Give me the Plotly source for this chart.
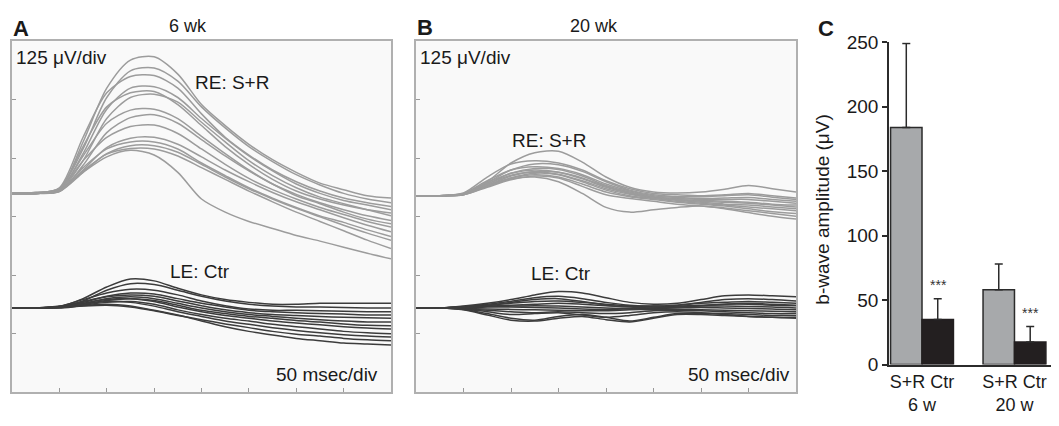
import plotly.graph_objects as go

W, H = 1059, 426

# ---------------- data ----------------
t_ms = [0, 25, 50, 75, 100, 125, 150, 175, 200, 225, 250, 275, 300, 325, 350, 375, 400]

# Panel A (6 wk) right eye S+R traces, µV relative to baseline
a_re = [
    [0, 0, 8, 110, 225, 285, 292, 255, 190, 145, 105, 72, 45, 22, 8, -5, -10],
    [0, 2, 10, 95, 205, 262, 268, 240, 185, 140, 100, 68, 40, 18, 0, -12, -20],
    [0, 0, 12, 120, 215, 250, 252, 225, 170, 120, 82, 50, 25, 5, -10, -20, -28],
    [0, 0, 6, 85, 180, 225, 228, 205, 160, 118, 80, 48, 20, 0, -15, -25, -35],
    [0, 2, 10, 100, 185, 215, 218, 190, 145, 100, 62, 30, 5, -12, -25, -35, -42],
    [0, 0, 5, 70, 160, 205, 212, 195, 152, 110, 70, 38, 12, -8, -22, -35, -48],
    [0, 0, 8, 80, 150, 178, 180, 160, 122, 85, 50, 20, -2, -20, -35, -48, -58],
    [0, 0, 4, 60, 130, 162, 168, 150, 115, 80, 48, 20, -5, -22, -40, -55, -65],
    [0, 2, 8, 70, 120, 143, 146, 128, 95, 62, 32, 8, -12, -30, -45, -60, -72],
    [0, 0, 5, 50, 98, 118, 120, 105, 78, 50, 25, 2, -18, -35, -52, -68, -82],
    [0, 0, 6, 55, 95, 110, 110, 95, 65, 38, 12, -10, -30, -48, -62, -78, -92],
    [0, 0, 4, 45, 85, 102, 102, 88, 62, 35, 10, -12, -32, -50, -68, -85, -100],
    [0, 0, 5, 48, 84, 96, 95, 80, 55, 30, 5, -18, -40, -60, -80, -100, -118],
    [0, 0, 6, 45, 78, 92, 82, 45, -12, -40, -60, -75, -90, -102, -115, -128, -140],
]
# Panel A left eye control traces
a_le = [
    [0, 0, 3, 20, 45, 62, 58, 42, 28, 18, 12, 8, 8, 10, 10, 10, 10],
    [0, 0, 2, 15, 38, 52, 50, 38, 25, 15, 8, 4, 2, 2, 1, 0, 0],
    [0, 0, 4, 18, 32, 40, 38, 28, 15, 5, -2, -5, -5, -6, -7, -8, -8],
    [0, 0, 2, 12, 25, 32, 30, 20, 10, 2, -5, -8, -10, -12, -13, -15, -15],
    [0, 0, 3, 14, 24, 28, 25, 15, 5, -4, -10, -14, -16, -18, -20, -21, -22],
    [0, 0, 2, 10, 20, 24, 20, 10, 0, -8, -14, -18, -22, -25, -28, -30, -30],
    [0, 0, 1, 8, 16, 20, 16, 6, -5, -12, -18, -22, -27, -30, -34, -37, -38],
    [0, 0, 2, 10, 18, 20, 14, 2, -8, -16, -22, -28, -32, -36, -40, -43, -45],
    [0, 0, 1, 6, 12, 14, 8, -4, -14, -22, -28, -35, -40, -45, -50, -53, -55],
    [0, 0, 2, 8, 14, 12, 4, -8, -18, -28, -35, -42, -48, -53, -57, -60, -62],
    [0, 0, 0, 4, 6, 2, -6, -16, -25, -34, -42, -50, -56, -60, -65, -68, -70],
    [0, 0, 1, 5, 8, 4, -5, -15, -28, -40, -50, -58, -65, -70, -75, -77, -79],
]
# Panel B (20 wk) right eye S+R traces
b_re = [
    [0, 0, 4, 30, 70, 92, 95, 72, 40, 18, 8, 6, 8, 14, 22, 15, 8],
    [0, 0, 6, 40, 68, 75, 70, 55, 32, 15, 5, 2, 0, 2, 5, 0, -5],
    [0, 0, 3, 28, 55, 68, 66, 52, 30, 12, 2, -2, -2, 0, 2, -3, -8],
    [0, 0, 5, 32, 55, 62, 58, 45, 25, 10, 0, -4, -6, -5, -4, -8, -12],
    [0, 0, 3, 25, 48, 58, 56, 42, 22, 8, -2, -6, -8, -8, -8, -12, -16],
    [0, 0, 4, 28, 48, 55, 50, 36, 18, 5, -4, -8, -10, -12, -14, -18, -20],
    [0, 0, 2, 22, 42, 52, 50, 38, 20, 6, -3, -8, -12, -14, -16, -20, -24],
    [0, 0, 3, 25, 44, 50, 46, 32, 15, 3, -5, -10, -14, -18, -20, -24, -28],
    [0, 0, 2, 20, 38, 48, 45, 30, 12, 0, -6, -12, -16, -20, -24, -28, -32],
    [0, 0, 4, 22, 38, 45, 40, 25, 8, -2, -8, -14, -18, -22, -28, -34, -38],
    [0, 0, 2, 18, 34, 42, 38, 20, 2, -6, -12, -18, -22, -26, -32, -38, -44],
    [0, 0, 3, 20, 36, 40, 30, 5, -25, -35, -30, -25, -22, -28, -36, -44, -50],
]
# Panel B left eye control traces
b_le = [
    [0, 0, 4, 10, 18, 28, 35, 32, 22, 12, 8, 10, 18, 26, 28, 26, 24],
    [0, 0, 2, 8, 14, 22, 25, 20, 12, 6, 4, 6, 12, 18, 20, 18, 15],
    [0, 0, 3, 6, 10, 14, 15, 12, 8, 5, 4, 6, 10, 12, 14, 12, 10],
    [0, 0, 2, 4, 6, 8, 10, 8, 5, 3, 2, 4, 6, 8, 8, 6, 5],
    [0, 0, 1, 3, 4, 5, 4, 2, 0, -1, 0, 2, 4, 4, 3, 2, 0],
    [0, 0, 0, 2, 2, 1, 0, -2, -3, -2, -1, 0, 1, 0, -1, -2, -4],
    [0, 0, -1, -2, -3, -4, -5, -6, -6, -4, -3, -3, -4, -5, -6, -7, -8],
    [0, 0, -2, -5, -8, -10, -8, -10, -12, -10, -6, -5, -6, -8, -10, -12, -12],
    [0, 0, -2, -8, -14, -12, -10, -15, -20, -16, -10, -8, -10, -12, -14, -16, -16],
    [0, 0, -3, -12, -22, -26, -18, -14, -20, -28, -20, -12, -12, -14, -18, -20, -20],
    [0, 0, -4, -15, -26, -28, -22, -18, -25, -30, -22, -14, -14, -16, -18, -20, -22],
    [0, 0, 0, 5, 12, 18, 20, 14, 6, 2, 0, 2, 5, 8, 10, 8, 6],
]
# display baselines (µV on the 6-division screen, 125 µV/div)
a_re_base, a_le_base = 425, 180
b_re_base, b_le_base = 420, 180

# Panel C bar chart
ages = ["6 w", "20 w"]
age_ticks = ["S+R Ctr<br>6 w", "S+R Ctr<br>20 w"]
sr_mean = [184, 58]
sr_err = [65, 20]
ctr_mean = [35, 17.5]
ctr_err = [16, 12]
sig = ["***", "***"]

# ---------------- figure ----------------
GREY_TR = "#9c9c9c"
DARK_TR = "#3c3c3c"
FONT = "Liberation Sans, Arial, sans-serif"

fig = go.Figure()

def add_traces(group, base, color, xa, ya):
    for tr in group:
        fig.add_trace(go.Scatter(
            x=t_ms, y=[base + v for v in tr], mode="lines",
            line=dict(color=color, width=1.5, shape="spline", smoothing=0.8),
            xaxis=xa, yaxis=ya, showlegend=False, hoverinfo="skip"))

add_traces(a_re, a_re_base, GREY_TR, "x", "y")
add_traces(a_le, a_le_base, DARK_TR, "x", "y")
add_traces(b_re, b_re_base, GREY_TR, "x2", "y2")
add_traces(b_le, b_le_base, DARK_TR, "x2", "y2")

fig.add_trace(go.Bar(
    x=ages, y=sr_mean, name="S+R", marker=dict(color="#a7a9ab", line=dict(color="#2b2b2b", width=1.5)),
    error_y=dict(type="data", array=sr_err, arrayminus=[0, 0], symmetric=False,
                 color="#2b2b2b", thickness=1.5, width=4),
    xaxis="x3", yaxis="y3", showlegend=False, hoverinfo="skip"))
fig.add_trace(go.Bar(
    x=ages, y=ctr_mean, name="Ctr", marker=dict(color="#231f20", line=dict(color="#231f20", width=1.5)),
    error_y=dict(type="data", array=ctr_err, arrayminus=[0, 0], symmetric=False,
                 color="#2b2b2b", thickness=1.5, width=4),
    xaxis="x3", yaxis="y3", showlegend=False, hoverinfo="skip"))

def fx(px):
    return px / W

def fy(py):
    return 1 - py / H

box_top, box_bot = 33, 402
scope_x = dict(range=[0, 400], tickvals=[50, 100, 150, 200, 250, 300, 350], ticks="inside",
               ticklen=4, tickcolor="#999", showticklabels=False, showgrid=False, zeroline=False,
               showline=True, linecolor="#b0b0b0", linewidth=2, mirror=True, fixedrange=True)
scope_y = dict(range=[0, 750], tickvals=[125, 250, 375, 500, 625], ticks="inside",
               ticklen=4, tickcolor="#999", showticklabels=False, showgrid=False, zeroline=False,
               showline=True, linecolor="#b0b0b0", linewidth=2, mirror=True, fixedrange=True)

c_left, c_right = 889, 1051
c_bot, c_top = 373, 34

fig.update_layout(
    width=W, height=H, margin=dict(l=0, r=0, t=0, b=0),
    paper_bgcolor="white", plot_bgcolor="white",
    font=dict(family=FONT, size=18, color="#1a1a1a"),
    xaxis=dict(scope_x, domain=[fx(12), fx(391)]),
    yaxis=dict(scope_y, domain=[fy(box_bot), fy(box_top)]),
    xaxis2=dict(scope_x, domain=[fx(416), fx(796)], anchor="y2"),
    yaxis2=dict(scope_y, domain=[fy(box_bot), fy(box_top)], anchor="x2"),
    xaxis3=dict(domain=[fx(c_left), fx(c_right)], anchor="y3", range=[-0.357, 1.395],
                tickvals=ages, ticktext=age_ticks, ticks="", showline=True, linecolor="#2b2b2b",
                linewidth=1.5, showgrid=False, zeroline=False, tickfont=dict(size=18),
                fixedrange=True),
    yaxis3=dict(domain=[fy(c_bot), fy(c_top)], anchor="x3", range=[0, 250],
                tickvals=[0, 50, 100, 150, 200, 250], ticks="outside", ticklen=5,
                tickcolor="#2b2b2b", tickwidth=1.5, showline=True, linecolor="#2b2b2b",
                linewidth=1.5, showgrid=False, zeroline=False, tickfont=dict(size=19),
                fixedrange=True),
    barmode="group", bargap=0.32, bargroupgap=0,
)

# faint off-white screen background of the two scope panels
fig.update_layout(shapes=[
    dict(type="rect", xref="x domain", yref="y domain", x0=0, x1=1, y0=0, y1=1,
         fillcolor="#f9f9f9", line=dict(width=0), layer="below"),
    dict(type="rect", xref="x2 domain", yref="y2 domain", x0=0, x1=1, y0=0, y1=1,
         fillcolor="#f9f9f9", line=dict(width=0), layer="below"),
])

ann = []
def txt(s, x, y, xa="left", size=18, bold=False, angle=0):
    ann.append(dict(text=("<b>%s</b>" % s) if bold else s, x=fx(x), y=fy(y), xref="paper",
                    yref="paper", xanchor=xa, yanchor="middle", showarrow=False,
                    textangle=angle, font=dict(size=size, family=FONT, color="#1a1a1a")))

txt("A", 11, 19, size=22, bold=True)
txt("6 wk", 188, 17, xa="center")
txt("B", 415, 18, size=22, bold=True)
txt("20 wk", 594, 17, xa="center")
txt("C", 816, 19, size=22, bold=True)
txt("125 μV/div", 14, 50, size=19)
txt("125 μV/div", 418, 50, size=19)
txt("RE: S+R", 193, 76, size=19)
txt("RE: S+R", 510, 137, size=19)
txt("LE: Ctr", 168, 275, size=19)
txt("LE: Ctr", 529, 277, size=19)
txt("50 msec/div", 380, 383, xa="right", size=19)
txt("50 msec/div", 792, 383, xa="right", size=19)
txt("b-wave amplitude (μV)", 823, 210, xa="center", size=19, angle=-90)

for i, a in enumerate(ages):
    ann.append(dict(text=sig[i], x=a, y=ctr_mean[i] + ctr_err[i], xref="x3", yref="y3",
                    xshift=16, yshift=4, yanchor="bottom", xanchor="center", showarrow=False,
                    font=dict(size=14, family=FONT, color="#333333")))

fig.update_layout(annotations=ann)
fig.write_html("out.html", config={"displayModeBar": False},
               post_script="document.body.style.margin='0';document.body.style.padding='0';")
